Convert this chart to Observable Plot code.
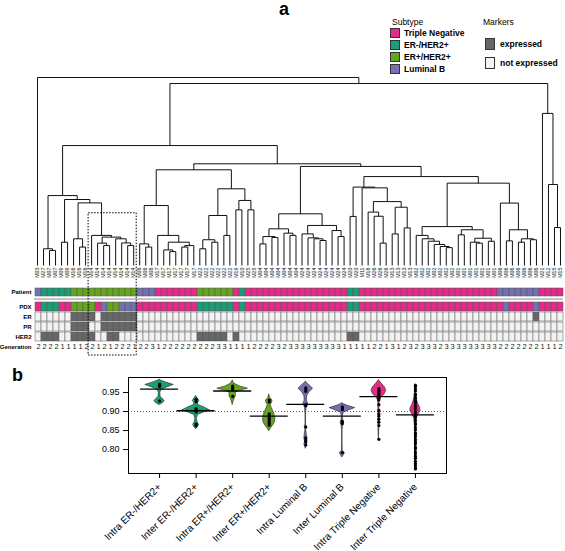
<!DOCTYPE html>
<html>
<head>
<meta charset="utf-8">
<script src="https://cdn.jsdelivr.net/npm/d3@7"></script>
<script src="https://cdn.jsdelivr.net/npm/@observablehq/plot@0.6"></script>
<style>
html,body{margin:0;padding:0;background:#fff;}
#page{position:relative;width:565px;height:551px;overflow:hidden;font-family:"Liberation Sans",Arial,Helvetica,sans-serif;color:#000;}
.abs{position:absolute;}
.panel{font-weight:bold;font-size:18px;line-height:18px;}
.lg{position:absolute;font-size:8.5px;line-height:10px;white-space:nowrap;}
.sw{position:absolute;width:10px;height:10px;border:0.7px solid #333;box-sizing:border-box;}
</style>
</head>
<body>
<div id="page"></div>
<script>
// ---------------- DATA ----------------
const subtypes = ["Triple Negative", "ER-/HER2+", "ER+/HER2+", "Luminal B"];
const subtypeColors = ["#E7298A", "#1B9E77", "#66A61E", "#7570B3"];
const markerLevels = ["expressed", "not expressed"];
const markerColors = ["#676767", "#F3F3F3"];
const subtypeCode = {T: "Triple Negative", E: "ER-/HER2+", G: "ER+/HER2+", L: "Luminal B"};

// leaf (PDX sample) labels in dendrogram order
const leafLabels = [
 "M03","M27","M07","M07","M09","M09","M16","M16","M16","M14",
 "M14","M14","M14","M14","M14","M14","M14","M08","M08","M08",
 "M17","M17","M17","M17","M17","M17","M17","M22","M22","M22",
 "M22","M22","M22","M19","M10","M25","M25","M04","M04","M04",
 "M04","M04","M04","M04","M24","M24","M24","M24","M24","M24",
 "M24","M24","M20","M20","M11","M18","M26","M26","M26","M13",
 "M13","M13","M13","M02","M02","M02","M02","M02","M02","M02",
 "M01","M01","M01","M01","M01","M01","M01","M06","M06","M06",
 "M06","M06","M06","M06","M21","M12","M15","M15"];

// heat-map rows (groups of ten columns)
const patientSubtype = "LEEEEEGGGG GGGGGGGLLL TTTTTTTGGG GGGTETTTTT TTTTTTTTTT TTEETTTTTT TTTTTTTTTT TTTTTTTLLL LLLLTTTT".replace(/ /g, "");
const pdxSubtype     = "TEEETTGGGG TLGGLLLTTT TTTTTTTEEE EEETETTTTT TTTTTTTTTT TTEETTTTTT TTTTTTTTTT TTTTTTTTLT TTTLTTTT".replace(/ /g, "");
const erStatus       = "0000001111 0111111000 0000000000 0000000000 0000000000 0000000000 0000000000 0000000000 00010000".replace(/ /g, "");
const prStatus       = "0000001110 0111111000 0000000000 0000000000 0000000000 0000000000 0000000000 0000000000 00000000".replace(/ /g, "");
const her2Status     = "0111001111 0011000000 0000000111 1101000000 0000000000 0011000000 0000000000 0000000000 00000000".replace(/ /g, "");
const generation     = "2222111122 1212221223 1222222222 3311112222 3233333333 3111112213 1232333233 3333333222 22221112".replace(/ /g, "");

// dendrogram: [left, right, height] with leaves as column indices
const tree =
[0,
 [
  [
   [
    [1, [2, 3, 0.080], 0.089],
    [
     [4, 5, 0.124],
     [
      [6, [7, 8, 0.098], 0.142],
      [9, [[10, [11, 12, 0.106], 0.119], [13, [14, [15, 16, 0.106], 0.120], 0.142], 0.151], 0.160],
      0.333],
     0.351],
    0.372],
   [
    [
     [
      [17, [18, 19, 0.098], 0.115],
      [20, [[21, [22, 23, 0.074], 0.083], [[24, 25, 0.098], 26, 0.106], 0.124], 0.160],
      0.319],
     [
      [[[27, 28, 0.089], [29, 30, 0.124], 0.137], [31, 32, 0.160], 0.266],
      [[33, 34, 0.296], [35, 36, 0.296], 0.346],
      0.408],
     0.509],
    [
     [
      [[[37, 38, 0.115], [39, 40, 0.149], 0.154], [41, [42, 43, 0.160], 0.172], 0.195],
      [[44, [45, [46, [47, 48, 0.133], 0.142], 0.147], 0.168], [49, [50, 51, 0.154], 0.186], 0.213],
      0.275],
     [
      [
       [52, 53, 0.261],
       [54, [[55, [56, [57, 58, 0.119], 0.262], 0.284], [[59, 60, 0.168], [61, 62, 0.200], 0.310], 0.340], 0.413],
       0.417],
      [
       [
        [63, [64, [65, [66, [67, [68, 69, 0.095], 0.101], 0.112], 0.129], 0.142], 0.160],
        [[70, 71, 0.163], [[72, [73, 74, 0.119], 0.124], [75, 76, 0.129], 0.145], 0.190],
        0.207],
       [77, [[78, 79, 0.131], [[80, 81, 0.124], [82, 83, 0.137], 0.142], 0.190], 0.332],
       0.438],
      0.473],
     0.527],
    0.541],
   0.638],
  [84, [85, [86, 87, 0.202], 0.431], 0.809],
  0.968],
 1.0];
const highlightLeaves = [9, 16];
const highlightTop = 0.278;

// panel b
const comparisons = ["Intra ER-/HER2+","Inter ER-/HER2+","Intra ER+/HER2+","Inter ER+/HER2+","Intra Luminal B","Inter Luminal B","Intra Triple Negative","Inter Triple Negative"];
const comparisonSubtype = ["ER-/HER2+","ER-/HER2+","ER+/HER2+","ER+/HER2+","Luminal B","Luminal B","Triple Negative","Triple Negative"];
const medianCorr = [0.959, 0.902, 0.954, 0.888, 0.919, 0.888, 0.939, 0.891];
const overallMedian = 0.900;
const yTicks = [0.80, 0.85, 0.90, 0.95];
// violin outlines: [correlation, half width]
const violinProfiles = [
 [[0.983,0],[0.977,0.16],[0.970,0.39],[0.964,0.22],[0.957,0.05],[0.949,0.02],[0.938,0.03],[0.932,0.10],[0.927,0.14],[0.922,0.09],[0.917,0]],
 [[0.940,0],[0.934,0.05],[0.928,0.09],[0.922,0.05],[0.917,0.06],[0.910,0.24],[0.903,0.38],[0.897,0.2],[0.891,0.05],[0.881,0.02],[0.872,0.04],[0.865,0.08],[0.859,0.05],[0.853,0]],
 [[0.981,0],[0.973,0.05],[0.966,0.2],[0.960,0.42],[0.955,0.2],[0.949,0.08],[0.941,0.09],[0.933,0.05],[0.925,0.02],[0.917,0]],
 [[0.944,0],[0.935,0.03],[0.929,0.09],[0.924,0.08],[0.917,0.04],[0.909,0.07],[0.899,0.12],[0.889,0.15],[0.880,0.17],[0.870,0.15],[0.861,0.09],[0.853,0.03],[0.848,0]],
 [[0.978,0],[0.969,0.1],[0.960,0.2],[0.951,0.1],[0.941,0.04],[0.929,0.03],[0.919,0.07],[0.911,0.02],[0.891,0.008],[0.866,0.008],[0.860,0.03],[0.853,0.008],[0.839,0.03],[0.829,0.04],[0.821,0.02],[0.813,0.04],[0.806,0.01],[0.802,0]],
 [[0.921,0],[0.915,0.15],[0.909,0.35],[0.903,0.18],[0.897,0.04],[0.886,0.008],[0.875,0.03],[0.870,0.05],[0.864,0.02],[0.851,0.006],[0.821,0.006],[0.796,0.01],[0.791,0.07],[0.785,0.04],[0.779,0]],
 [[0.982,0],[0.973,0.08],[0.963,0.17],[0.954,0.2],[0.944,0.15],[0.935,0.05],[0.926,0.015],[0.891,0.012],[0.851,0.01],[0.825,0]],
 [[0.971,0],[0.951,0.012],[0.936,0.03],[0.921,0.07],[0.909,0.13],[0.902,0.14],[0.893,0.09],[0.881,0.03],[0.861,0.012],[0.811,0.012],[0.771,0.01],[0.748,0]]
];
const pointValues = [
 [0.972, 0.969, 0.966, 0.928],
 [0.932, 0.926, 0.908, 0.905, 0.902, 0.899, 0.867, 0.863],
 [0.967, 0.963, 0.960, 0.957, 0.940],
 [0.930, 0.925, 0.894, 0.890, 0.886, 0.882, 0.878, 0.873, 0.869, 0.864],
 [0.962, 0.958, 0.953, 0.918, 0.915, 0.859, 0.831, 0.825, 0.820, 0.812],
 [0.912, 0.909, 0.905, 0.874, 0.868, 0.792],
 [0.960, 0.956, 0.952, 0.948, 0.944, 0.939, 0.935, 0.930, 0.918, 0.903, 0.894, 0.888, 0.880, 0.872, 0.863, 0.827],
 [0.969, 0.965, 0.959, 0.954, 0.946, 0.942, 0.935, 0.928, 0.924, 0.916, 0.910, 0.907, 0.900, 0.894, 0.888, 0.884, 0.877, 0.870, 0.865, 0.858, 0.852, 0.844, 0.839, 0.833, 0.826, 0.820, 0.815, 0.807, 0.802, 0.794, 0.788, 0.782, 0.777, 0.769, 0.763, 0.758, 0.752, 0.749]
];

// ---------------- RENDER ----------------
const FONT = "Liberation Sans, Arial, Helvetica, sans-serif";
const page = document.getElementById("page");
function place(el, left, top) {
  const w = document.createElement("div");
  w.className = "abs"; w.style.left = left + "px"; w.style.top = top + "px";
  w.appendChild(el); page.appendChild(w); return w;
}
function html(tag, cls, text, left, top, extra) {
  const e = document.createElement(tag);
  if (cls) e.className = cls;
  e.textContent = text;
  e.style.position = "absolute"; e.style.left = left + "px"; e.style.top = top + "px";
  if (extra) Object.assign(e.style, extra);
  page.appendChild(e); return e;
}
const colorScale = {domain: [...subtypes, ...markerLevels], range: [...subtypeColors, ...markerColors]};
const cols = leafLabels.map((_, i) => i);

// --- patient row ---
const patientRows = cols.map(i => ({i, row: "Patient", key: subtypeCode[patientSubtype[i]]}));
place(Plot.plot({
  width: 565, height: 12, marginTop: 2, marginBottom: 1.5, marginLeft: 34, marginRight: 2,
  style: {background: "transparent", overflow: "visible", fontFamily: FONT},
  x: {type: "band", domain: cols, padding: 0, axis: null},
  y: {type: "band", domain: ["Patient"], padding: 0, axis: null},
  color: colorScale,
  marks: [
    Plot.cell(patientRows, {x: "i", y: "row", fill: "key", stroke: "#555", strokeWidth: 0.5}),
    Plot.axisY({tickSize: 0, tickPadding: 3, fontSize: 6, fontWeight: "bold", label: null})
  ]
}), 0, 286);
html("div", "", "", 34, 297.6, {width: "529px", height: "2.2px", background: "#c4c4c4"});

// --- PDX / markers / generation ---
const heatRows = [];
cols.forEach(i => {
  heatRows.push({i, row: "PDX", key: subtypeCode[pdxSubtype[i]]});
  heatRows.push({i, row: "ER", key: erStatus[i] === "1" ? markerLevels[0] : markerLevels[1]});
  heatRows.push({i, row: "PR", key: prStatus[i] === "1" ? markerLevels[0] : markerLevels[1]});
  heatRows.push({i, row: "HER2", key: her2Status[i] === "1" ? markerLevels[0] : markerLevels[1]});
});
const genRows = cols.map(i => ({i, g: generation[i]}));
place(Plot.plot({
  width: 565, height: 52, marginTop: 1, marginBottom: 1, marginLeft: 34, marginRight: 2,
  style: {background: "transparent", overflow: "visible", fontFamily: FONT},
  x: {type: "band", domain: cols, padding: 0, axis: null},
  y: {type: "band", domain: ["PDX", "ER", "PR", "HER2", "Generation"], paddingInner: 0.15, paddingOuter: 0.05, axis: null},
  color: colorScale,
  marks: [
    Plot.cell(heatRows, {x: "i", y: "row", fill: "key", stroke: "#5a5a5a", strokeWidth: 0.5}),
    Plot.text(genRows, {x: "i", y: () => "Generation", text: "g", fontSize: 7.5, fill: "#222"}),
    Plot.axisY({tickSize: 0, tickPadding: 3, fontSize: 6, fontWeight: "bold", label: null})
  ]
}), 0, 300);

// --- dendrogram ---
const segs = [];
function walk(node) {
  if (typeof node === "number") return {x: node, h: 0};
  const [l, r, h] = node;
  const a = walk(l), b = walk(r);
  segs.push({x1: a.x, x2: b.x, y1: h, y2: h});
  segs.push({x1: a.x, x2: a.x, y1: h, y2: a.h});
  segs.push({x1: b.x, x2: b.x, y1: h, y2: b.h});
  return {x: (a.x + b.x) / 2, h};
}
walk(tree);
const boxRow = [{x1: highlightLeaves[0] - 0.5, x2: highlightLeaves[1] + 0.5, y1: highlightTop, y2: 0}];
place(Plot.plot({
  width: 565, height: 290, marginTop: 77, marginBottom: 25, marginLeft: 34, marginRight: 2,
  style: {background: "transparent", overflow: "visible", fontFamily: FONT},
  x: {domain: [-0.5, leafLabels.length - 0.5], axis: null},
  y: {domain: [0, 1], axis: null},
  marks: [
    Plot.link(segs, {x1: "x1", y1: "y1", x2: "x2", y2: "y2", stroke: "#111", strokeWidth: 1}),
    Plot.text(leafLabels, {x: (d, i) => i, y: () => 0, text: d => d, rotate: -90, textAnchor: "end", dy: 2, fontSize: 5.3, fill: "#111"}),
    Plot.rect(boxRow, {x1: "x1", x2: "x2", y1: "y1", y2: "y2", insetBottom: -90, fill: "none", stroke: "#000", strokeWidth: 1, strokeDasharray: "1.5,1.5"})
  ]
}), 0, 0);

// --- legend (panel a) ---
html("div", "lg", "Subtype", 392, 17);
subtypes.forEach((s, k) => {
  const top = 28 + k * 12;
  const sw = html("div", "sw", "", 390, top); sw.style.background = subtypeColors[k];
  html("div", "lg", s, 404, top, {fontWeight: "bold"});
});
html("div", "lg", "Markers", 483, 17);
markerLevels.forEach((s, k) => {
  const top = 38 + k * 19;
  const sw = html("div", "sw", "", 485, top, {height: "12px"}); sw.style.background = markerColors[k];
  html("div", "lg", s, 500, top + 1, {fontWeight: "bold"});
});

// --- panel labels ---
html("div", "panel", "a", 279, 0);
html("div", "panel", "b", 12, 366);

// --- panel b: violins ---
const violinRows = violinProfiles.flatMap((prof, i) => prof.map(([v, w]) => ({i, cat: comparisons[i], subtype: comparisonSubtype[i], v, w})));
const pointRows = pointValues.flatMap((vals, i) => vals.map(v => ({i, v})));
const medianRows = medianCorr.map((m, i) => ({i, m}));
place(Plot.plot({
  width: 565, height: 191, marginTop: 17, marginBottom: 78, marginLeft: 128, marginRight: 119,
  style: {background: "transparent", overflow: "visible", fontFamily: FONT},
  x: {domain: [-0.85, comparisons.length - 0.15]},
  y: {domain: [0.737, 0.9895]},
  color: colorScale,
  marks: [
    Plot.ruleY([overallMedian], {stroke: "#333", strokeWidth: 0.8, strokeDasharray: "1,2"}),
    Plot.areaX(violinRows, {y: "v", x1: d => d.i - d.w, x2: d => d.i + d.w, z: "cat", fill: "subtype", stroke: "#222", strokeWidth: 0.6}),
    Plot.dot(pointRows, {x: "i", y: "v", r: 1.6, fill: "#000"}),
    Plot.ruleY(medianRows, {y: "m", x1: d => d.i - 0.52, x2: d => d.i + 0.52, stroke: "#000", strokeWidth: 1.3}),
    Plot.frame({stroke: "#000", strokeWidth: 1}),
    Plot.axisY({ticks: yTicks, tickFormat: d3.format(".2f"), tickSize: 5, fontSize: 9, label: null}),
    Plot.axisX({ticks: comparisons.map((_, i) => i), tickFormat: i => comparisons[i], tickRotate: -45, tickSize: 5, fontSize: 10, label: null})
  ]
}), 0, 360);
</script>
</body>
</html>
